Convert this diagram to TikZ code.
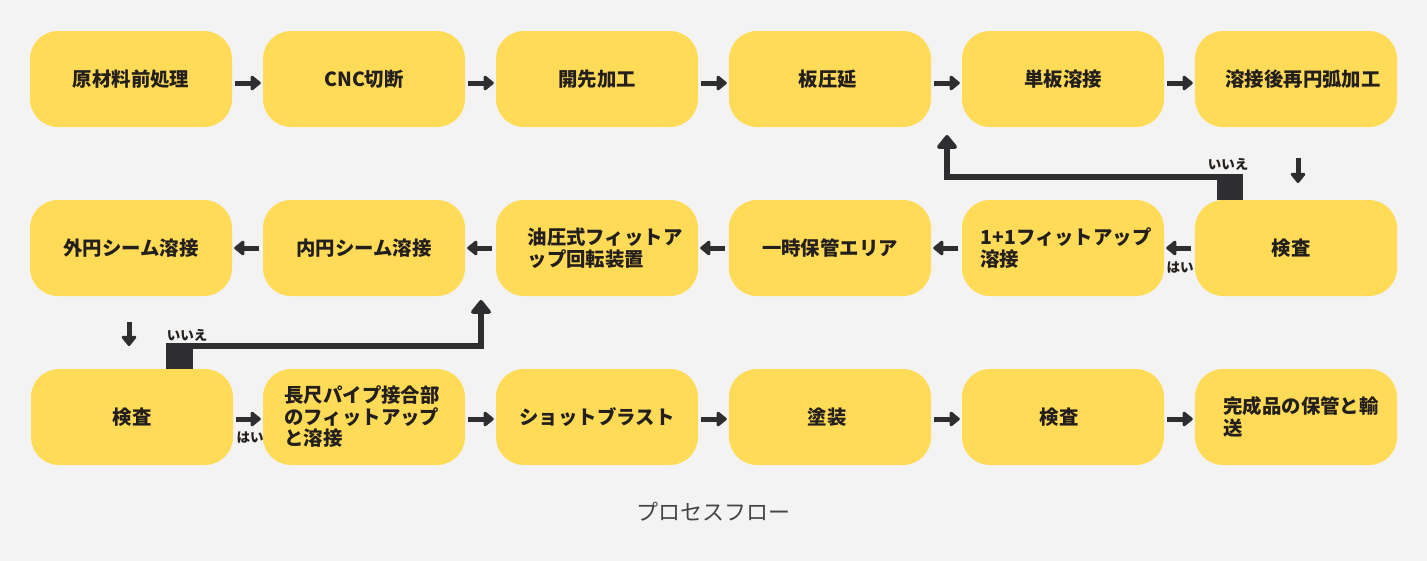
\documentclass[tikz,border=0pt]{standalone}
\usepackage{fontspec}
\newfontfamily\jp{Noto Sans CJK JP}
\usetikzlibrary{arrows.meta,calc}
\definecolor{bg}{HTML}{F3F3F3}
\definecolor{boxc}{HTML}{FFDB58}
\definecolor{ink}{HTML}{231F1C}
\definecolor{arrc}{HTML}{2E2E30}
\definecolor{titlec}{HTML}{454545}
\begin{document}
\begin{tikzpicture}[x=1pt,y=-1pt,
 stepbox/.style={fill=boxc, draw=none, rounded corners=28pt, minimum width=202pt, minimum height=96pt, inner sep=0pt},
 txt/.style={font=\jp\bfseries\fontsize{19.4}{21.5}\selectfont, text=ink, align=left, inner sep=0pt},
 flow/.style={draw=arrc, line width=5pt, -{Triangle[length=11pt,width=17pt,round]}},
 loopline/.style={draw=arrc, line width=6pt, -{Triangle[length=15pt,width=23pt,round]}},
 sqbox/.style={fill=arrc, draw=none, inner sep=0pt, minimum width=26pt, minimum height=26pt},
 lab/.style={font=\jp\bfseries\fontsize{13.5}{14}\selectfont, text=ink, inner sep=0pt},
]
\useasboundingbox (0,0) rectangle (1427,560);
\fill[bg] (-5,-5) rectangle (1432,565);

% row 1
\node[stepbox] (b11) at (131,79) {};
\node[stepbox] (b12) at (364,79) {};
\node[stepbox] (b13) at (597,79) {};
\node[stepbox] (b14) at (830,79) {};
\node[stepbox] (b15) at (1063,79) {};
\node[stepbox] (b16) at (1296,79) {};
% row 2
\node[stepbox] (b21) at (131,248) {};
\node[stepbox] (b22) at (364,248) {};
\node[stepbox] (b23) at (597,248) {};
\node[stepbox] (b24) at (830,248) {};
\node[stepbox] (b25) at (1063,248) {};
\node[stepbox] (b26) at (1296,248) {};
% row 3
\node[stepbox] (b31) at (132,417) {};
\node[stepbox] (b32) at (364,417) {};
\node[stepbox] (b33) at (597,417) {};
\node[stepbox] (b34) at (830,417) {};
\node[stepbox] (b35) at (1063,417) {};
\node[stepbox] (b36) at (1296,417) {};

% texts
\node[txt] (t11) at (b11.center) {原材料前処理};
\node[txt] (t12) at (b12.center) {CNC切断};
\node[txt] (t13) at (b13.center) {開先加工};
\node[txt] (t14) at ($(b14.center)+(-2,0)$) {板圧延};
\node[txt] (t15) at (b15.center) {単板溶接};
\node[txt] (t16) at ($(b16.center)+(7,0)$) {溶接後再円弧加工};
\node[txt] (t21) at (b21.center) {外円シーム溶接};
\node[txt] (t22) at (b22.center) {内円シーム溶接};
\node[txt] (t23) at ($(b23.center)+(8,0)$) {油圧式フィットア\\ップ回転装置};
\node[txt] (t24) at (b24.center) {一時保管エリア};
\node[txt] (t25) at ($(b25.center)+(3,0)$) {1+1フィットアップ\\溶接};
\node[txt] (t26) at ($(b26.center)+(-5,0)$) {検査};
\node[txt] (t31) at (b31.center) {検査};
\node[txt] (t32) at ($(b32.center)+(-2,0)$) {長尺パイプ接合部\\のフィットアップ\\と溶接};
\node[txt] (t33) at (b33.center) {ショットブラスト};
\node[txt] (t34) at ($(b34.center)+(-3,0)$) {塗装};
\node[txt] (t35) at ($(b35.center)+(-4,0)$) {検査};
\node[txt] (t36) at ($(b36.center)+(5,0)$) {完成品の保管と輸\\送};

% row 1 arrows
\draw[flow] ($(b11.east)+(3,4)$) -- ($(b12.west)+(-2,4)$);
\draw[flow] ($(b12.east)+(3,4)$) -- ($(b13.west)+(-2,4)$);
\draw[flow] ($(b13.east)+(3,4)$) -- ($(b14.west)+(-2,4)$);
\draw[flow] ($(b14.east)+(3,4)$) -- ($(b15.west)+(-2,4)$);
\draw[flow] ($(b15.east)+(3,4)$) -- ($(b16.west)+(-2,4)$);
% row 2 arrows (leftward)
\draw[flow] ($(b26.west)+(-4,0)$) -- ($(b25.east)+(2,0)$);
\draw[flow] ($(b25.west)+(-4,0)$) -- ($(b24.east)+(2,0)$);
\draw[flow] ($(b24.west)+(-4,0)$) -- ($(b23.east)+(2,0)$);
\draw[flow] ($(b23.west)+(-4,0)$) -- ($(b22.east)+(2,0)$);
\draw[flow] ($(b22.west)+(-4,0)$) -- ($(b21.east)+(2,0)$);
% row 3 arrows
\draw[flow] ($(b31.east)+(3,2)$) -- ($(b32.west)+(-2,2)$);
\draw[flow] ($(b32.east)+(3,2)$) -- ($(b33.west)+(-2,2)$);
\draw[flow] ($(b33.east)+(3,2)$) -- ($(b34.west)+(-2,2)$);
\draw[flow] ($(b34.east)+(3,2)$) -- ($(b35.west)+(-2,2)$);
\draw[flow] ($(b35.east)+(3,2)$) -- ($(b36.west)+(-2,2)$);

% down arrows
\coordinate (d1s) at (1298,158);
\coordinate (d1e) at (1298,183);
\draw[flow] (d1s) -- (d1e);
\coordinate (d2s) at (129,322);
\coordinate (d2e) at (129,346);
\draw[flow] (d2s) -- (d2e);

% loop 1
\node[sqbox] (sq1) at (1230,187) {};
\coordinate (up1) at (947,135);
\draw[loopline] ($(sq1.north west)+(0.5,3)$) -| (up1);
% loop 2
\node[sqbox, minimum width=27pt] (sq2) at (179.5,356) {};
\coordinate (up2) at (481,300);
\draw[loopline] ($(sq2.north east)+(-0.5,3)$) -| (up2);

% labels
\node[lab] (l1) at (1228,164) {いいえ};
\node[lab] (l2) at (187,335) {いいえ};
\node[lab] (l3) at (1180,268) {はい};
\node[lab] (l4) at (250,438) {はい};

% title
\node[font=\jp\fontsize{22}{24}\selectfont, text=titlec, inner sep=0pt] (title) at (713.5,512) {プロセスフロー};
\end{tikzpicture}
\end{document}
